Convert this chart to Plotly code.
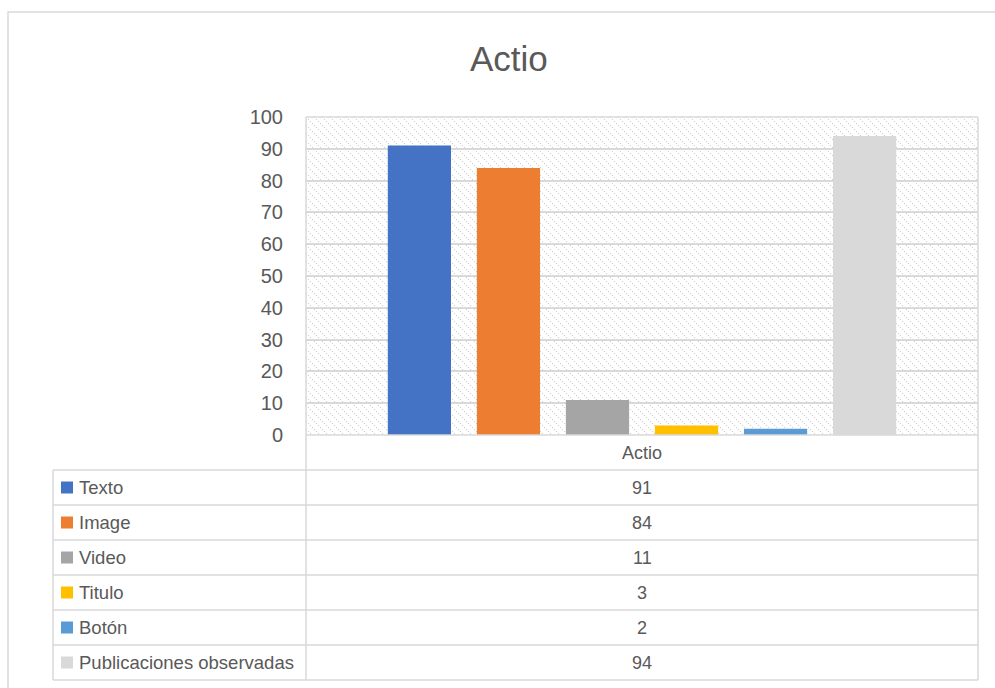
import base64
import plotly.graph_objects as go

# ---- data ----
category = "Actio"
series_names = ["Texto", "Image", "Video", "Titulo", "Botón", "Publicaciones observadas"]
series_values = [91, 84, 11, 3, 2, 94]
series_colors = ["#4472C4", "#ED7D31", "#A5A5A5", "#FFC000", "#5B9BD5", "#D9D9D9"]
y_ticks = list(range(0, 101, 10))

W, H = 995, 688
TXT = "#595959"
GRID = "#D9D9D9"
FONT = "Liberation Sans"

# plot area in pixels
PL, PR, PT, PB = 306, 978, 117, 435
# table geometry in pixels
TL = 53
ROW_H = 35
HDR_BOTTOM = 470


def px(x):
    return x / W


def py(y):
    return 1 - y / H


fig = go.Figure()
for name, val, col in zip(series_names, series_values, series_colors):
    fig.add_trace(go.Bar(x=[category], y=[val], name=name, marker_color=col,
                         marker_line_width=0, showlegend=False))

# dotted downward-diagonal hatch background for plot area
pw, ph = PR - PL, PB - PT
dots = "".join(f'<rect x="{k}" y="{k}" width="1" height="1"/>' for k in (0, 2, 4, 6))
svg = (f'<svg xmlns="http://www.w3.org/2000/svg" width="{pw}" height="{ph}" '
       'shape-rendering="crispEdges">'
       '<defs><pattern id="p" patternUnits="userSpaceOnUse" width="8" height="8">'
       f'<g fill="#cfcfcf">{dots}</g></pattern></defs>'
       f'<rect width="{pw}" height="{ph}" fill="white"/>'
       f'<rect width="{pw}" height="{ph}" fill="url(#p)"/></svg>')
uri = "data:image/svg+xml;base64," + base64.b64encode(svg.encode()).decode()

shapes = []
annotations = []


def hline(y, x0, x1):
    shapes.append(dict(type="line", xref="paper", yref="paper", x0=px(x0), x1=px(x1),
                       y0=py(y), y1=py(y), line=dict(color=GRID, width=1.5)))


def vline(x, y0, y1):
    shapes.append(dict(type="line", xref="paper", yref="paper", x0=px(x), x1=px(x),
                       y0=py(y0), y1=py(y1), line=dict(color=GRID, width=1.5)))


# outer chart border
shapes.append(dict(type="rect", xref="paper", yref="paper", x0=px(8), x1=px(1010),
                   y0=py(700), y1=py(12), line=dict(color=GRID, width=1.5)))

# plot border & table lines
n = len(series_names)
hline(PT, PL, PR)
vline(PL, PT, HDR_BOTTOM + ROW_H * n)
vline(PR, PT, HDR_BOTTOM + ROW_H * n)
hline(PB, PL, PR)
vline(TL, HDR_BOTTOM, HDR_BOTTOM + ROW_H * n)
for i in range(n + 1):
    hline(HDR_BOTTOM + ROW_H * i, TL, PR)

# header text
annotations.append(dict(text=category, xref="paper", yref="paper", x=px((PL + PR) / 2),
                        y=py((PB + HDR_BOTTOM) / 2), xanchor="center", yanchor="middle",
                        showarrow=False, font=dict(family=FONT, size=18, color=TXT)))

for i, (name, val, col) in enumerate(zip(series_names, series_values, series_colors)):
    cy = HDR_BOTTOM + ROW_H * i + ROW_H / 2
    shapes.append(dict(type="rect", xref="paper", yref="paper", x0=px(61), x1=px(73),
                       y0=py(cy + 6), y1=py(cy - 6), fillcolor=col,
                       line=dict(width=0)))
    annotations.append(dict(text=name, xref="paper", yref="paper", x=px(77),
                            y=py(cy), xanchor="left", yanchor="middle", showarrow=False,
                            font=dict(family=FONT, size=18.5, color=TXT)))
    annotations.append(dict(text=str(val), xref="paper", yref="paper",
                            x=px((PL + PR) / 2), y=py(cy), xanchor="center",
                            yanchor="middle", showarrow=False,
                            font=dict(family=FONT, size=18, color=TXT)))

# title
annotations.append(dict(text="Actio", xref="paper", yref="paper", x=px(509), y=py(58),
                        xanchor="center", yanchor="middle", showarrow=False,
                        font=dict(family=FONT, size=35, color=TXT)))

fig.update_layout(
    width=W, height=H,
    margin=dict(l=0, r=0, t=0, b=0, pad=0, autoexpand=False),
    paper_bgcolor="white",
    plot_bgcolor="rgba(0,0,0,0)",
    bargap=0.205, bargroupgap=0.29,
    barmode="group",
    xaxis=dict(domain=[px(PL), px(PR)], showticklabels=False, showgrid=False,
               zeroline=False, showline=False, fixedrange=True, automargin=False),
    yaxis=dict(domain=[py(PB), py(PT)], range=[0, 100], tickvals=y_ticks,
               showgrid=True, gridcolor=GRID, gridwidth=1.5, zeroline=False,
               showline=False, ticks="", ticklabelstandoff=22, automargin=False,
               tickfont=dict(family=FONT, size=20, color=TXT), fixedrange=True),
    images=[dict(source=uri, xref="paper", yref="paper", x=px(PL), y=py(PT),
                 sizex=px(PR) - px(PL), sizey=py(PT) - py(PB), sizing="stretch",
                 xanchor="left", yanchor="top", layer="below")],
    shapes=shapes,
    annotations=annotations,
    showlegend=False,
)

fig.write_html("out.html")
